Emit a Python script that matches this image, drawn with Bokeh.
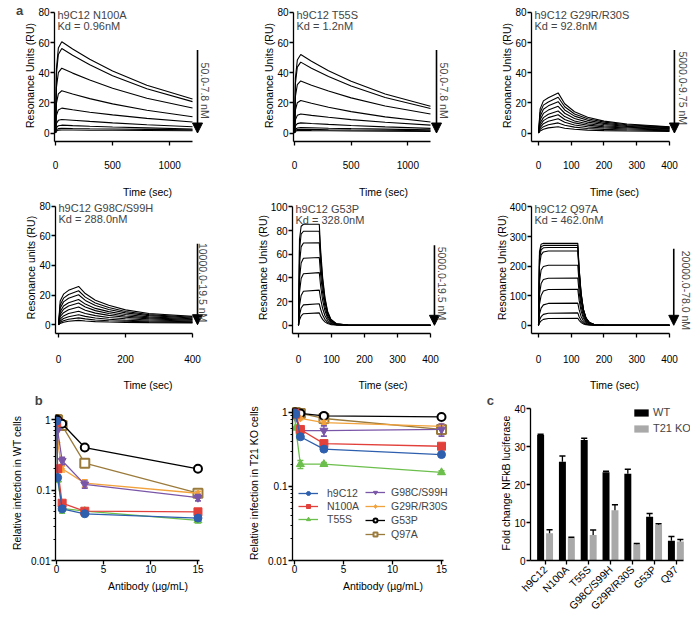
import math
from bokeh.plotting import figure
from bokeh.layouts import row, column
from bokeh.models import (Range1d, FixedTicker, Label, Arrow, NormalHead, Legend,
                          LegendItem, CustomJSTickFormatter)
from bokeh.embed import file_html
from bokeh.resources import INLINE

FONT = "Liberation Sans"

# ---------------- panel a : SPR sensorgrams ----------------
a1_name, a1_kd, a1_conc = "h9C12 N100A", "Kd = 0.96nM", "50.0-7.8 nM"
a1_time = [0, 8, 25, 55, 150, 300, 500, 800, 1200]
a1_ru = [
    [0, 42.4, 56.3, 60.5, 55.7, 48.9, 41.1, 31.7, 22.5],
    [0, 39.2, 52.1, 56.0, 51.6, 45.2, 38.0, 29.3, 20.8],
    [0, 30.1, 40.0, 43.0, 39.7, 35.1, 29.7, 23.1, 16.6],
    [0, 19.6, 26.0, 28.0, 25.9, 22.8, 19.3, 15.1, 10.8],
    [0, 11.6, 15.3, 16.5, 15.4, 13.8, 12.0, 9.7, 7.3],
    [0, 6.3, 8.4, 9.0, 8.5, 7.7, 6.7, 5.5, 4.2],
    [0, 3.6, 4.8, 5.2, 4.9, 4.5, 4.0, 3.4, 2.7],
    [0, 2.2, 2.9, 3.1, 3.0, 2.85, 2.66, 2.43, 2.1],
    [0, 1.4, 1.9, 2.0, 1.95, 1.88, 1.79, 1.66, 1.5],
]

a2_name, a2_kd, a2_conc = "h9C12 T55S", "Kd = 1.2nM", "50.0-7.8 nM"
a2_time = [0, 8, 25, 55, 150, 300, 500, 800, 1200]
a2_ru = [
    [0, 36.4, 48.4, 52.0, 47.6, 41.3, 34.3, 25.9, 17.8],
    [0, 32.9, 43.7, 47.0, 43.0, 37.5, 31.1, 23.6, 16.3],
    [0, 24.2, 32.1, 34.5, 31.7, 27.8, 23.3, 17.9, 12.6],
    [0, 15.1, 20.1, 21.6, 19.7, 17.1, 14.2, 10.7, 7.3],
    [0, 8.8, 11.7, 12.6, 11.7, 10.4, 8.9, 7.1, 5.2],
    [0, 4.7, 6.2, 6.7, 6.3, 5.7, 5.0, 4.1, 3.1],
    [0, 2.5, 3.3, 3.6, 3.5, 3.2, 2.9, 2.6, 2.1],
    [0, 1.75, 2.3, 2.5, 2.4, 2.2, 2.0, 1.8, 1.5],
    [0, 1.2, 1.6, 1.7, 1.6, 1.5, 1.35, 1.2, 1.0],
]

a3_name, a3_kd, a3_conc = "h9C12 G29R/R30S", "Kd = 92.8nM", "5000.0-9.75 nM"
a3_time = [0, 5, 15, 30, 60, 80, 110, 150, 200, 270, 400]
a3_ru = [
    [0, 16.0, 21.3, 23.4, 26.6, 19.4, 14.1, 10.4, 7.9, 6.0, 4.2],
    [0, 13.5, 18.5, 20.6, 23.7, 17.4, 12.6, 9.4, 7.2, 5.5, 3.9],
    [0, 11.0, 15.8, 18.0, 20.8, 15.3, 11.2, 8.4, 6.4, 5.0, 3.6],
    [0, 8.8, 13.0, 15.2, 17.7, 13.1, 9.6, 7.2, 5.6, 4.4, 3.2],
    [0, 6.6, 10.2, 12.4, 14.6, 10.9, 8.0, 6.1, 4.8, 3.8, 2.9],
    [0, 5.0, 8.2, 10.2, 12.1, 9.0, 6.7, 5.2, 4.1, 3.3, 2.5],
    [0, 3.6, 6.2, 7.8, 9.4, 7.1, 5.3, 4.1, 3.3, 2.7, 2.1],
    [0, 2.4, 4.2, 5.5, 6.7, 5.1, 3.9, 3.0, 2.4, 2.0, 1.6],
    [0, 1.4, 2.5, 3.4, 4.2, 3.2, 2.5, 1.9, 1.6, 1.3, 1.1],
]

a4_name, a4_kd, a4_conc = "h9C12 G98C/S99H", "Kd = 288.0nM", "10000.0-19.5 nM"
a4_time = [0, 5, 15, 30, 60, 80, 110, 150, 200, 270, 400]
a4_ru = [
    [0, 16.0, 20.6, 23.2, 25.8, 21.0, 16.5, 13.1, 10.0, 7.6, 5.6],
    [0, 13.3, 17.9, 20.4, 22.9, 18.6, 14.7, 11.6, 8.9, 6.8, 5.0],
    [0, 11.1, 15.4, 17.8, 20.2, 16.4, 13.0, 10.3, 8.0, 6.1, 4.5],
    [0, 8.8, 12.6, 14.8, 17.0, 13.9, 11.0, 8.8, 6.9, 5.3, 4.0],
    [0, 7.0, 10.4, 12.6, 14.6, 11.9, 9.5, 7.6, 5.9, 4.6, 3.5],
    [0, 5.4, 8.1, 10.1, 11.9, 9.8, 7.8, 6.3, 5.0, 3.9, 3.0],
    [0, 3.8, 5.9, 7.6, 9.1, 7.5, 6.1, 4.9, 4.0, 3.2, 2.5],
    [0, 2.5, 4.2, 5.4, 6.7, 5.6, 4.5, 3.7, 3.0, 2.5, 2.0],
    [0, 1.6, 2.7, 3.7, 4.6, 3.9, 3.2, 2.7, 2.3, 1.9, 1.6],
    [0, 0.9, 1.6, 2.3, 2.9, 2.5, 2.1, 1.8, 1.6, 1.4, 1.2],
]

a5_name, a5_kd, a5_conc = "h9C12 G53P", "Kd = 328.0nM", "5000.0-19.5 nM"
a5_time = [0, 3, 8, 15, 63, 67, 73, 80, 88, 98, 115, 150, 400]
a5_ru = [
    [0, 72.6, 83.7, 85.4, 85.4, 64.0, 41.0, 23.9, 12.0, 5.1, 1.3, 0.3, 0],
    [0, 63.6, 77.1, 79.5, 79.5, 59.6, 38.2, 22.3, 11.1, 4.8, 1.2, 0.2, 0],
    [0, 51.7, 66.3, 69.5, 69.8, 52.4, 33.5, 19.5, 9.8, 4.2, 1.0, 0.2, 0],
    [0, 39.0, 52.7, 56.7, 57.3, 43.0, 27.5, 16.0, 8.0, 3.4, 0.9, 0.2, 0],
    [0, 27.6, 39.6, 43.6, 44.5, 33.4, 21.4, 12.5, 6.2, 2.7, 0.7, 0.1, 0],
    [0, 16.3, 25.2, 28.8, 29.7, 22.3, 14.3, 8.3, 4.2, 1.8, 0.4, 0.1, 0],
    [0, 8.7, 14.6, 17.3, 18.2, 13.7, 8.7, 5.1, 2.5, 1.1, 0.3, 0.1, 0],
    [0, 4.4, 7.9, 9.8, 10.5, 7.9, 5.0, 2.9, 1.5, 0.6, 0.2, 0, 0],
]

a6_name, a6_kd, a6_conc = "h9C12 Q97A", "Kd = 462.0nM", "20000.0-78.0 nM"
a6_time = [0, 3, 8, 15, 30, 120, 124, 130, 137, 145, 155, 170, 200, 400]
a6_ru = [
    [0, 249, 274, 277, 277, 277, 194, 111, 55, 25, 9.7, 2.8, 0.8, 0],
    [0, 238, 265, 270, 270, 270, 189, 108, 54, 24, 9.5, 2.7, 0.8, 0],
    [0, 224, 255, 262, 263, 263, 184, 105, 53, 24, 9.2, 2.6, 0.8, 0],
    [0, 201, 238, 248, 251, 251, 176, 100, 50, 23, 8.8, 2.5, 0.8, 0],
    [0, 146, 187, 199, 203, 203, 142, 81, 41, 18, 7.1, 2.0, 0.6, 0],
    [0, 104, 141, 155, 159, 160, 112, 64, 32, 14, 5.6, 1.6, 0.5, 0],
    [0, 71, 101, 116, 121, 122, 85, 49, 24, 11, 4.3, 1.2, 0.4, 0],
    [0, 38, 58, 69, 74, 75, 53, 30, 15, 6.8, 2.6, 0.8, 0.2, 0],
    [0, 18, 29, 37, 41, 42, 29, 17, 8.4, 3.8, 1.5, 0.4, 0.1, 0],
    [0, 8.4, 15, 20, 23, 24, 17, 9.6, 4.8, 2.2, 0.8, 0.2, 0.1, 0],
]

# ---------------- panel b : infection ----------------
b_series = ["h9C12", "N100A", "T55S", "G98C/S99H", "G29R/R30S", "G53P", "Q97A"]
b_dose = [0.024, 0.12, 0.6, 3, 15]
b_wt = [
    [0.95, 0.15, 0.054, 0.046, 0.040],
    [0.90, 0.20, 0.065, 0.050, 0.049],
    [0.85, 0.14, 0.055, 0.050, 0.037],
    [0.97, 0.70, 0.26, 0.12, 0.078],
    [0.95, 0.47, 0.20, 0.125, 0.090],
    [1.00, 0.97, 0.87, 0.40, 0.20],
    [1.00, 0.98, 0.82, 0.24, 0.090],
]
b_wt_err = [
    [0, 0, 0.004, 0.002, 0.003],
    [0, 0, 0.005, 0.003, 0.005],
    [0, 0.01, 0.008, 0.003, 0.003],
    [0, 0, 0.03, 0.014, 0.008],
    [0, 0, 0.02, 0.015, 0.006],
    [0, 0, 0, 0, 0],
    [0, 0, 0, 0.02, 0.006],
]
b_ko = [
    [0.98, 0.95, 0.47, 0.32, 0.27],
    [0.98, 0.95, 0.59, 0.38, 0.35],
    [0.92, 0.62, 0.20, 0.20, 0.155],
    [0.98, 0.85, 0.57, 0.57, 0.59],
    [0.98, 0.92, 0.83, 0.73, 0.65],
    [1.00, 0.99, 0.97, 0.90, 0.87],
    [1.00, 0.99, 0.97, 0.83, 0.59],
]
b_ko_err = [
    [0, 0, 0.02, 0.01, 0.01],
    [0, 0, 0.03, 0.02, 0.02],
    [0, 0, 0.025, 0.01, 0.008],
    [0, 0, 0.03, 0.09, 0.11],
    [0, 0, 0.03, 0.05, 0.04],
    [0, 0, 0, 0, 0],
    [0, 0, 0.05, 0.06, 0.06],
]
b_colors = ["#2d5fae", "#e2403a", "#6cbf4c", "#7a56a8", "#f2a23c", "#000000", "#9b7b3c"]
b_markers = ["circle", "square", "triangle", "inverted_triangle", "diamond", "circle", "square"]
b_fills = ["#2d5fae", "#e2403a", "#6cbf4c", "#7a56a8", "#f2a23c", "white", "white"]
b_sizes = [8, 8, 8, 8, 7, 8, 9]

# ---------------- panel c : NFkB luciferase ----------------
c_groups = ["h9C12", "N100A", "T55S", "G98C/S99H", "G29R/R30S", "G53P", "Q97"]
c_wt = [33.0, 26.0, 31.7, 23.2, 22.8, 11.5, 5.2]
c_wt_err = [0.2, 1.5, 0.5, 0.3, 1.2, 0.9, 1.1]
c_ko = [7.2, 5.9, 6.7, 13.2, 4.3, 9.4, 5.0]
c_ko_err = [0.9, 0.2, 1.3, 1.5, 0.2, 0.3, 0.5]


def base_fig(w, h, fl, ft, fr, fb, xr, yr, y_type="linear", xls=10, xas=14, yas=0):
    p = figure(width=w, height=h, x_range=Range1d(*xr), y_range=Range1d(*yr),
               y_axis_type=y_type, output_backend="svg", toolbar_location=None,
               min_border_left=fl, min_border_right=fr, min_border_top=ft,
               min_border_bottom=fb)
    p.outline_line_color = None
    p.xgrid.visible = False
    p.ygrid.visible = False
    for ax in p.axis:
        ax.axis_line_width = 1.3
        ax.major_tick_line_width = 1.3
        ax.minor_tick_line_width = 1.0
        ax.major_tick_in = 0
        ax.major_tick_out = 4
        ax.minor_tick_in = 0
        ax.minor_tick_out = 0
        ax.major_label_text_font = FONT
        ax.major_label_text_font_size = "10px"
        ax.major_label_text_color = "black"
        ax.axis_label_text_font = FONT
        ax.axis_label_text_font_size = "10.5px"
        ax.axis_label_text_font_style = "normal"
        ax.axis_label_text_color = "black"
    p.yaxis.major_label_standoff = 1
    p.yaxis.axis_label_standoff = yas
    p.xaxis.major_label_standoff = xls
    p.xaxis.axis_label_standoff = xas
    return p


def letter(p, text, x, y):
    # data-positioned label living in the left side panel (not clipped to the frame)
    p.add_layout(Label(x=x, y=y, text=text, text_font=FONT, text_font_size="13px",
                       text_font_style="bold", text_align="center",
                       text_baseline="middle"), "left")


def spr(w, h, fl, ft, fr, fb, xr, yr, xb, yb, xt, yt, times, curves, name, kd, conc,
        arr_x, arr_top, txt_x, txt_y, ylabel, xls, xas, toff):
    p = base_fig(w, h, fl, ft, fr, fb, xr, yr, xls=xls, xas=xas, yas=-1)
    p.xaxis.ticker = FixedTicker(ticks=xt, minor_ticks=[])
    p.yaxis.ticker = FixedTicker(ticks=yt, minor_ticks=[])
    p.xaxis.bounds = xb
    p.yaxis.bounds = yb
    p.xaxis.axis_label = "Time (sec)"
    p.yaxis.axis_label = ylabel
    p.multi_line(xs=[times] * len(curves), ys=curves, line_color="black", line_width=1.1)
    for txt, off in ((name, toff), (kd, toff - 11)):
        p.add_layout(Label(x=xr[0], y=yt[-1], x_offset=3, y_offset=off, text=txt,
                           text_font=FONT, text_font_size="11px", text_align="left",
                           text_baseline="middle"))
    p.add_layout(Arrow(end=NormalHead(size=10, fill_color="black", line_color="black",
                                      line_width=1),
                       x_start=arr_x, y_start=arr_top, x_end=arr_x, y_end=0,
                       line_width=1.6, line_color="black"))
    p.add_layout(Label(x=txt_x, y=txt_y, text=conc, angle=-math.pi / 2,
                       text_font=FONT, text_font_size="10.5px", text_align="center",
                       text_baseline="middle"))
    return p


# ---- row 1 ----
yr1 = (-5.625, 81.875)
p1 = spr(245, 200, 54, 9, 5, 51, (-8.76, 1620.4), yr1, (-8.76, 1200), (-5.625, 80),
         [0, 500, 1000], [0, 20, 40, 60, 80], a1_time, a1_ru, a1_name, a1_kd, a1_conc,
         1244, 55, 1313, 28.1, "Resonance Units (RU)", 15, 14, -3)
letter(p1, "a", -315, 81.25)
p2 = spr(233, 200, 48, 9, 5, 51, (-8.8, 1579.4), yr1, (-8.8, 1200), (-5.625, 80),
         [0, 500, 1000], [0, 20, 40, 60, 80], a2_time, a2_ru, a2_name, a2_kd, a2_conc,
         1253, 55, 1319, 28.1, "Resonance Units (RU)", 15, 14, -3)
p3 = spr(221, 200, 53, 9, 2, 51, (-21.37, 485.5), yr1, (-21.37, 400), (-5.625, 80),
         [0, 100, 200, 300, 400], [0, 20, 40, 60, 80], a3_time, a3_ru, a3_name, a3_kd,
         a3_conc, 415, 55, 440, 29.7, "Resonance Units (RU)", 15, 14, -3)

# ---- row 2 ----
p4 = spr(245, 193, 55, 1, 5, 49, (-8.96, 543.3), (-5.94, 83.13), (-8.96, 400), (-5.94, 80),
         [0, 200, 400], [0, 20, 40, 60, 80], a4_time, a4_ru, a4_name, a4_kd, a4_conc,
         415, 54.7, 432, 28.4, "Resonance units (RU)", 17, 13, -2)
p5 = spr(233, 193, 47, 1, 5, 47, (-18.18, 530.3), (-6.92, 104.62), (-18.18, 400),
         (-6.92, 100), [0, 100, 200, 300, 400], [0, 20, 40, 60, 80, 100], a5_time, a5_ru,
         a5_name, a5_kd, a5_conc, 412, 67.7, 435, 35.4, "Resonance Units (RU)", 17, 13, -2)
p6 = spr(221, 193, 53, 1, 2, 47, (-21.37, 485.5), (-27.69, 418.46), (-21.37, 400),
         (-27.69, 400), [0, 100, 200, 300, 400], [0, 100, 200, 300, 400], a6_time, a6_ru,
         a6_name, a6_kd, a6_conc, 413, 259, 449, 118, "Resonance Units (RU)", 17, 13, -2)


# ---- row 3 : panel b ----
def infection(w, fl, xr, yr, vals, errs, ylabel, cap):
    p = base_fig(w, 236, fl, 12, 5, 69, xr, yr, y_type="log", xls=0, xas=4, yas=5)
    p.xaxis.ticker = FixedTicker(ticks=[0, 5, 10, 15], minor_ticks=[])
    minors = [k * 0.01 for k in range(2, 10)] + [k * 0.1 for k in range(2, 10)]
    p.yaxis.ticker = FixedTicker(ticks=[0.01, 0.1, 1], minor_ticks=minors)
    p.yaxis.formatter = CustomJSTickFormatter(code="return String(Number(tick.toPrecision(3)))")
    p.yaxis.minor_tick_out = 2
    p.xaxis.bounds = (xr[0], 15.2)
    p.yaxis.bounds = (0.01, 1.13)
    p.xaxis.axis_label = "Antibody (\u00b5g/mL)"
    p.yaxis.axis_label = ylabel
    rends = {}
    for i in reversed(range(len(b_series))):
        col = b_colors[i]
        ln = p.line(b_dose, vals[i], line_color=col, line_width=1.3)
        lo = [v - e for v, e in zip(vals[i], errs[i]) if e > 0]
        hi = [v + e for v, e in zip(vals[i], errs[i]) if e > 0]
        xe = [d for d, e in zip(b_dose, errs[i]) if e > 0]
        if xe:
            p.segment(x0=xe, y0=lo, x1=xe, y1=hi, line_color=col, line_width=1.3)
            p.segment(x0=[x - cap for x in xe], y0=hi, x1=[x + cap for x in xe], y1=hi,
                      line_color=col, line_width=1.6)
            p.segment(x0=[x - cap for x in xe], y0=lo, x1=[x + cap for x in xe], y1=lo,
                      line_color=col, line_width=1.6)
        sc = p.scatter(b_dose, vals[i], marker=b_markers[i], size=b_sizes[i],
                       fill_color=b_fills[i], line_color=col,
                       line_width=2 if b_fills[i] == "white" else 1)
        rends[i] = [ln, sc]
    return p, rends


p7, _ = infection(245, 53, (-0.105, 19.51), (0.01, 1.58), b_wt, b_wt_err,
                  "Relative infection in WT cells", 0.315)
letter(p7, "b", -1.89, 1.86)
p8, r8 = infection(233, 47, (-0.204, 18.265), (0.01, 1.243), b_ko, b_ko_err,
                   "Relative infection in T21 KO cells", 0.306)
leg_a = Legend(items=[LegendItem(label=b_series[i], renderers=r8[i]) for i in [0, 1, 2]],
               location=(6, 35), spacing=1, label_standoff=9)
leg_b = Legend(items=[LegendItem(label=b_series[i], renderers=r8[i]) for i in [3, 4, 5, 6]],
               location=(73, 20), spacing=2, label_standoff=6)
for lg in (leg_a, leg_b):
    lg.padding = 0
    lg.margin = 0
    lg.border_line_color = None
    lg.background_fill_alpha = 0
    lg.glyph_width = 20
    lg.glyph_height = 10
    lg.label_height = 10
    lg.label_text_font = FONT
    lg.label_text_font_size = "10.5px"
    p8.add_layout(lg)

# ---- row 3 : panel c ----
p9 = base_fig(221, 236, 52, 12, 9, 69, (-0.674, 6.665), (0, 40.79), xls=3, xas=4, yas=-1)
p9.xaxis.ticker = FixedTicker(ticks=list(range(len(c_groups))), minor_ticks=[])
p9.yaxis.ticker = FixedTicker(ticks=[0, 10, 20, 30, 40], minor_ticks=[])
p9.xaxis.formatter = CustomJSTickFormatter(args=dict(names=c_groups),
                                           code="return names[Math.round(tick)]")
p9.xaxis.major_label_orientation = math.pi / 4
p9.xaxis.major_label_text_font_size = "10.5px"
p9.xaxis.bounds = (-0.674, 6.35)
p9.yaxis.bounds = (0, 40)
p9.yaxis.axis_label = "Fold change NFkB luciferase"
gx = list(range(len(c_groups)))
wt_x = [g - 0.21 for g in gx]
ko_x = [g + 0.2 for g in gx]
wt_r = p9.vbar(x=wt_x, top=c_wt, width=0.32, fill_color="black", line_color=None)
ko_r = p9.vbar(x=ko_x, top=c_ko, width=0.32, fill_color="#a9a9a9", line_color=None)
for xs, vals, errs in ((wt_x, c_wt, c_wt_err), (ko_x, c_ko, c_ko_err)):
    tops = [v + e for v, e in zip(vals, errs)]
    p9.segment(x0=xs, y0=vals, x1=xs, y1=tops, line_color="black", line_width=1.3)
    p9.segment(x0=[x - 0.14 for x in xs], y0=tops, x1=[x + 0.14 for x in xs], y1=tops,
               line_color="black", line_width=1.5)
leg_c = Legend(items=[LegendItem(label="WT", renderers=[wt_r]),
                      LegendItem(label="T21 KO", renderers=[ko_r])],
               location=(102, 126), spacing=4, label_standoff=3)
leg_c.padding = 0
leg_c.margin = 0
leg_c.border_line_color = None
leg_c.background_fill_alpha = 0
leg_c.glyph_width = 18
leg_c.glyph_height = 9
leg_c.label_height = 10
leg_c.label_text_font = FONT
leg_c.label_text_font_size = "11px"
p9.add_layout(leg_c)
letter(p9, "c", -2.51, 42.1)

layout = column(row(p1, p2, p3), row(p4, p5, p6), row(p7, p8, p9))
open("out.html", "w").write(file_html(layout, INLINE))
